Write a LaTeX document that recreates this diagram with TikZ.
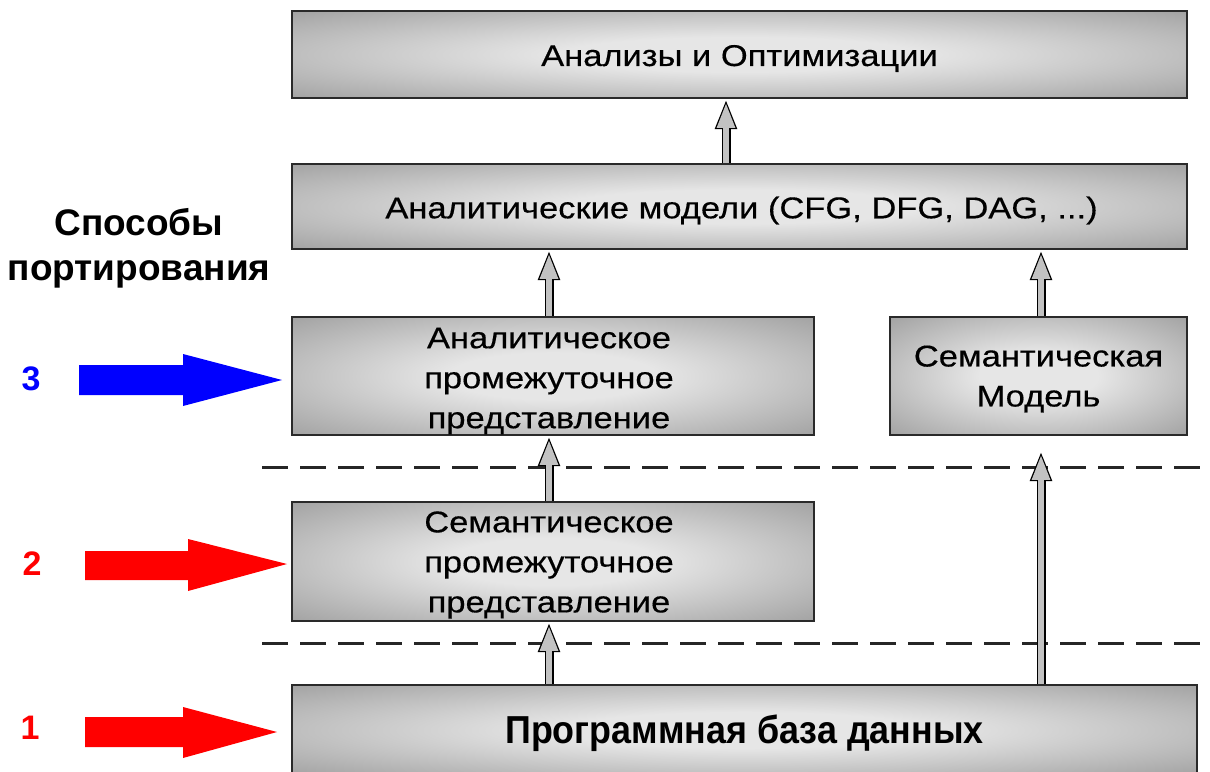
\documentclass[tikz,border=0pt]{standalone}
\usepackage{fontspec}
\setmainfont{Liberation Sans}
\newfontfamily\boxfont[FakeStretch=1.15,FakeBold=0.4]{Liberation Sans}
\newfontfamily\basefont[FakeStretch=0.92]{Liberation Sans}
\usetikzlibrary{arrows.meta}

\definecolor{boxlight}{HTML}{E6E6E6}
\definecolor{boxdark}{HTML}{8C8C8C}
\definecolor{shaftgray}{HTML}{C2C2C2}
\definecolor{edgegray}{HTML}{2A2A2A}
\pgfdeclareradialshading{boxglow}{\pgfpoint{0bp}{0bp}}{%
  color(0bp)=(boxlight); color(10bp)=(boxlight);
  color(44bp)=(boxdark); color(100bp)=(boxdark)}

\tikzset{
  layer/.style={draw=edgegray, line width=2pt, shading=boxglow, inner sep=0pt},
  layertext/.style={align=center, inner sep=0pt,
    font=\boxfont\fontsize{30}{40}\selectfont},
  pipeout/.style={line width=9pt, draw=black,
    -{Triangle[length=30pt,width=20pt]}},
  pipein/.style={line width=6.5pt, draw=shaftgray,
    -{Triangle[length=25.5pt,width=16.5pt]}, shorten >=3.3pt},
  levelline/.style={draw=black!85, line width=3pt, dash pattern=on 26pt off 12pt},
  waynum/.style={font=\bfseries\fontsize{34}{40}\selectfont},
  waytitle/.style={font=\bfseries\fontsize{37}{45}\selectfont, align=center}
}

\begin{document}
\begin{tikzpicture}[x=1pt, y=-1pt]
\useasboundingbox (0,0) rectangle (1210,771);

% separators between the porting levels
\draw[levelline] (262,467) -- (1210,467);
\draw[levelline] (262,643) -- (1210,643);

% layers
\node[layer, minimum width=895pt, minimum height=87pt] (b1) at (739.5,54.5) {};
\node[layer, minimum width=895pt, minimum height=85pt] (b2) at (739.5,206.5) {};
\node[layer, minimum width=522pt, minimum height=118pt] (b3) at (553,376) {};
\node[layer, minimum width=297pt, minimum height=118pt] (b4) at (1038.5,376) {};
\node[layer, minimum width=522pt, minimum height=119pt] (b5) at (553,561.5) {};
\node[layer, minimum width=905pt, minimum height=90pt] (b6) at (744.5,730) {};

% layer captions
\node[layertext] (t1) at ([yshift=-4pt]b1.center) {Анализы и Оптимизации};
\node[layertext] (t2) at ([xshift=2pt,yshift=-4pt]b2.center)
  {Аналитические модели (CFG, DFG, DAG, ...)};
\node[layertext] (t3) at ([xshift=-4pt,yshift=-5pt]b3.center)
  {Аналитическое\\промежуточное\\представление};
\node[layertext] (t4) at ([yshift=-3pt]b4.center) {Семантическая\\Модель};
\node[layertext] (t5) at ([xshift=-4pt,yshift=-3.5pt]b5.center)
  {Семантическое\\промежуточное\\представление};
\node[font=\basefont\bfseries\fontsize{39}{40}\selectfont, inner sep=0pt]
  (t6) at ([yshift=-3.5pt]b6.center) {Программная база данных};

% columns of the connectors
\coordinate (xa) at (726,0);
\coordinate (xl) at (549,0);
\coordinate (xr) at (1041,0);
\coordinate (semtip) at (1041,451);

% connectors: dark outline first, grey core on top
\foreach \s/\t in {{b2.north -| xa}/{b1.south -| xa},
                   {b3.north -| xl}/{b2.south -| xl},
                   {b4.north -| xr}/{b2.south -| xr},
                   {b5.north -| xl}/{b3.south -| xl},
                   {b6.north -| xl}/{b5.south -| xl},
                   {b6.north -| xr}/{semtip}} {
  \draw[pipeout] (\s) -- (\t);
  \draw[pipein] (\s) -- (\t);
}

% heading of the left column
\node[waytitle] (title) at (139,248) {Способы\\портирования};

% porting entry points
\node[waynum, text=blue] (n3) at (31,379) {3};
\node[waynum, text=red] (n2) at (32,564) {2};
\node[waynum, text=red] (n1) at (30,728) {1};

\fill[blue] (79,365) -- (183,365) -- (183,354) -- (282,380)
  -- (183,406) -- (183,395) -- (79,395) -- cycle;
\fill[red] (85,551) -- (188,551) -- (188,539) -- (287,564)
  -- (188,591) -- (188,580) -- (85,580) -- cycle;
\fill[red] (85,717) -- (183,717) -- (183,707) -- (277,732)
  -- (183,758) -- (183,747) -- (85,747) -- cycle;
\end{tikzpicture}
\end{document}
